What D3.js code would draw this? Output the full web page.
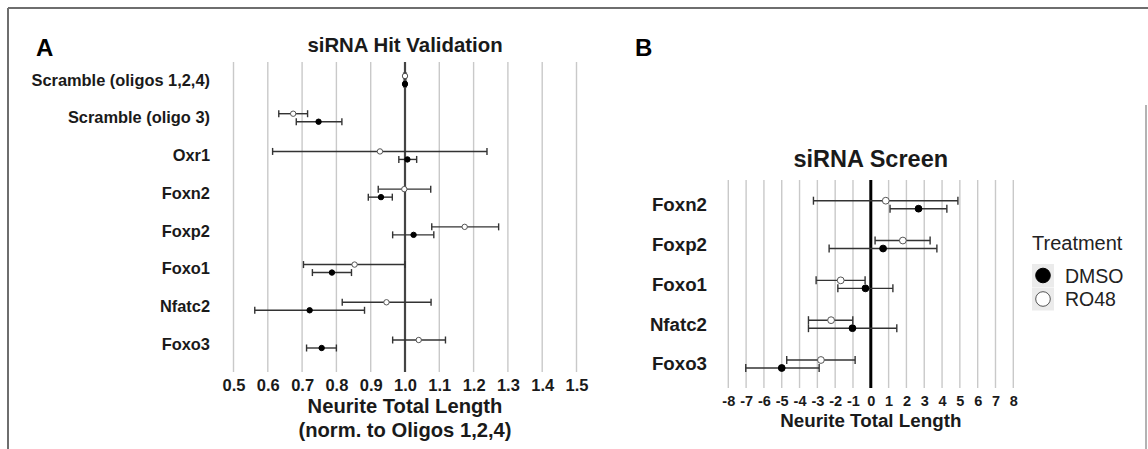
<!DOCTYPE html>
<html>
<head>
<meta charset="utf-8">
<script src="https://cdn.jsdelivr.net/npm/d3@7"></script>
<style>
  html, body { margin: 0; padding: 0; background: #fff; }
  svg { display: block; font-family: "Liberation Sans", Arial, sans-serif; }
</style>
</head>
<body>
<div id="chart"></div>
<script>
// ---- panel A data (normalised to oligos 1,2,4) ----
var catsA = ["Scramble (oligos 1,2,4)", "Scramble (oligo 3)", "Oxr1", "Foxn2",
             "Foxp2", "Foxo1", "Nfatc2", "Foxo3"];
var dmsoA    = [1.000, 0.748, 1.007, 0.930, 1.025, 0.787, 0.722, 0.757];
var dmsoALo  = [0.996, 0.683, 0.982, 0.893, 0.964, 0.730, 0.562, 0.713];
var dmsoAHi  = [1.004, 0.816, 1.034, 0.963, 1.084, 0.844, 0.882, 0.800];
var ro48A    = [1.000, 0.674, 0.927, 0.998, 1.174, 0.853, 0.946, 1.040];
var ro48ALo  = [0.996, 0.632, 0.614, 0.922, 1.078, 0.704, 0.817, 0.964];
var ro48AHi  = [1.004, 0.716, 1.239, 1.075, 1.273, 1.000, 1.076, 1.118];
var ticksA   = [0.5, 0.6, 0.7, 0.8, 0.9, 1.0, 1.1, 1.2, 1.3, 1.4, 1.5];

// ---- panel B data (screen) ----
var catsB = ["Foxn2", "Foxp2", "Foxo1", "Nfatc2", "Foxo3"];
var dmsoB    = [2.68, 0.69, -0.30, -1.03, -5.00];
var dmsoBLo  = [1.08, -2.34, -1.85, -3.50, -7.02];
var dmsoBHi  = [4.27, 3.71, 1.24, 1.46, -2.90];
var ro48B    = [0.84, 1.80, -1.69, -2.23, -2.80];
var ro48BLo  = [-3.22, 0.24, -3.07, -3.50, -4.72];
var ro48BHi  = [4.89, 3.33, -0.32, -1.01, -0.88];
var ticksB   = [-8, -7, -6, -5, -4, -3, -2, -1, 0, 1, 2, 3, 4, 5, 6, 7, 8];

var treatments = ["DMSO", "RO48"];

var W = 1148, H = 449;
var svg = d3.select("#chart").append("svg").attr("width", W).attr("height", H);

// frame
svg.append("line").attr("x1", 8).attr("x2", W).attr("y1", 8).attr("y2", 8)
   .attr("stroke", "#6e6e6e").attr("stroke-width", 2);
svg.append("line").attr("x1", 8).attr("x2", 8).attr("y1", 8).attr("y2", H)
   .attr("stroke", "#6e6e6e").attr("stroke-width", 2);
svg.append("line").attr("x1", 1146).attr("x2", 1146).attr("y1", 105).attr("y2", H)
   .attr("stroke", "#9a9a9a").attr("stroke-width", 1.5);

// panel letters
svg.append("text").attr("x", 36).attr("y", 56).text("A")
   .attr("font-size", 24).attr("font-weight", "bold");
svg.append("text").attr("x", 635).attr("y", 56).text("B")
   .attr("font-size", 24).attr("font-weight", "bold");

function toRows(cats, d, dlo, dhi, r, rlo, rhi) {
  var rows = [];
  cats.forEach(function(c, i) {
    rows.push({cat: c, trt: "RO48", v: r[i], lo: rlo[i], hi: rhi[i]});
    rows.push({cat: c, trt: "DMSO", v: d[i], lo: dlo[i], hi: dhi[i]});
  });
  return rows;
}

function panel(opt) {
  var x = opt.x, y = opt.y;
  var g = svg.append("g");

  // vertical grid
  g.selectAll(".grid").data(opt.ticks).enter().append("line")
    .attr("x1", function(d) { return x(d); }).attr("x2", function(d) { return x(d); })
    .attr("y1", opt.top).attr("y2", opt.bottom)
    .attr("stroke", "#c9c9c9").attr("stroke-width", 1.4);

  // reference line
  g.append("line").attr("x1", x(opt.ref)).attr("x2", x(opt.ref))
    .attr("y1", opt.top).attr("y2", opt.bottom)
    .attr("stroke", opt.refColor).attr("stroke-width", opt.refWidth);

  // x axis
  var xa = g.append("g").attr("transform", "translate(0," + opt.bottom + ")")
    .call(d3.axisBottom(x).tickValues(opt.ticks).tickSize(0).tickPadding(opt.tickPad)
          .tickFormat(opt.fmt));
  xa.select(".domain").remove();
  xa.selectAll("text").attr("font-size", opt.tickFont).attr("font-weight", "bold")
    .attr("fill", "#1a1a1a").attr("font-family", "Liberation Sans, Arial, sans-serif");

  // y axis
  var ya = g.append("g").attr("transform", "translate(" + opt.labelX + ",0)")
    .call(d3.axisLeft(y).tickSize(0).tickPadding(0));
  ya.select(".domain").remove();
  ya.selectAll("text").attr("font-size", opt.catFont).attr("font-weight", "bold")
    .attr("fill", "#1a1a1a").attr("font-family", "Liberation Sans, Arial, sans-serif");

  var off = function(d) { return y(d.cat) + (d.trt === "RO48" ? -opt.dodge : opt.dodge); };

  // error bars
  var eb = g.selectAll(".eb").data(opt.rows).enter().append("g")
    .attr("stroke", "#333").attr("stroke-width", 1.4);
  eb.append("line").attr("x1", function(d) { return x(d.lo); }).attr("x2", function(d) { return x(d.hi); })
    .attr("y1", off).attr("y2", off);
  eb.append("line").attr("x1", function(d) { return x(d.lo); }).attr("x2", function(d) { return x(d.lo); })
    .attr("y1", function(d) { return off(d) - opt.cap; }).attr("y2", function(d) { return off(d) + opt.cap; });
  eb.append("line").attr("x1", function(d) { return x(d.hi); }).attr("x2", function(d) { return x(d.hi); })
    .attr("y1", function(d) { return off(d) - opt.cap; }).attr("y2", function(d) { return off(d) + opt.cap; });

  // points
  g.selectAll(".pt").data(opt.rows).enter().append("circle")
    .attr("cx", function(d) { return x(d.v); }).attr("cy", off).attr("r", opt.r)
    .attr("fill", function(d) { return d.trt === "DMSO" ? "#000" : "#fff"; })
    .attr("stroke", function(d) { return d.trt === "DMSO" ? "#000" : "#555"; })
    .attr("stroke-width", 1);

  // title
  g.append("text").attr("x", x(opt.ref)).attr("y", opt.titleY).attr("text-anchor", "middle")
    .attr("font-size", opt.titleFont).attr("font-weight", "bold").attr("fill", "#1a1a1a")
    .text(opt.title);

  // axis title
  opt.xTitle.forEach(function(t, i) {
    g.append("text").attr("x", x(opt.ref)).attr("y", opt.xTitleY + i * opt.xTitleGap)
      .attr("text-anchor", "middle").attr("font-size", opt.xTitleFont)
      .attr("font-weight", "bold").attr("fill", "#1a1a1a").text(t);
  });
}

var xA = d3.scaleLinear().domain([0.5, 1.5]).range([233.5, 576.5]);
var yA = d3.scalePoint().domain(catsA).range([80, 344]);
panel({
  x: xA, y: yA, ticks: ticksA, ref: 1.0, refColor: "#444", refWidth: 2.2,
  top: 62, bottom: 372, tickPad: 7, tickFont: 16.5, fmt: d3.format(".1f"),
  labelX: 210, catFont: 16.4, dodge: 4, cap: 3.5, r: 2.7,
  rows: toRows(catsA, dmsoA, dmsoALo, dmsoAHi, ro48A, ro48ALo, ro48AHi),
  title: "siRNA Hit Validation", titleY: 52, titleFont: 20.4,
  xTitle: ["Neurite Total Length", "(norm. to Oligos 1,2,4)"], xTitleY: 413, xTitleGap: 24, xTitleFont: 20.2
});

var xB = d3.scaleLinear().domain([-8, 8]).range([728.3, 1013.3]);
var yB = d3.scalePoint().domain(catsB).range([204.7, 364]);
panel({
  x: xB, y: yB, ticks: ticksB, ref: 0, refColor: "#000", refWidth: 3,
  top: 180, bottom: 388, tickPad: 8, tickFont: 14.5, fmt: function(d) { return String(d); },
  labelX: 707, catFont: 18.7, dodge: 4, cap: 4, r: 3.4,
  rows: toRows(catsB, dmsoB, dmsoBLo, dmsoBHi, ro48B, ro48BLo, ro48BHi),
  title: "siRNA Screen", titleY: 167, titleFont: 23.5,
  xTitle: ["Neurite Total Length"], xTitleY: 427, xTitleGap: 0, xTitleFont: 18.8
});

// legend
var lg = svg.append("g").attr("transform", "translate(1032,0)");
lg.append("text").attr("x", 0).attr("y", 250).attr("font-size", 20).attr("fill", "#222").text("Treatment");
var items = lg.selectAll(".item").data(treatments).enter().append("g")
  .attr("transform", function(d, i) { return "translate(0," + (264 + i * 23.5) + ")"; });
items.append("rect").attr("width", 22).attr("height", 23).attr("fill", "#ebebeb");
items.append("circle").attr("cx", 11).attr("cy", 11.5).attr("r", 7.3)
  .attr("fill", function(d) { return d === "DMSO" ? "#000" : "#fff"; })
  .attr("stroke", function(d) { return d === "DMSO" ? "#000" : "#555"; }).attr("stroke-width", 1);
items.append("text").attr("x", 33).attr("y", 18.5).attr("font-size", 19.5).attr("fill", "#222")
  .text(function(d) { return d; });
</script>
</body>
</html>
